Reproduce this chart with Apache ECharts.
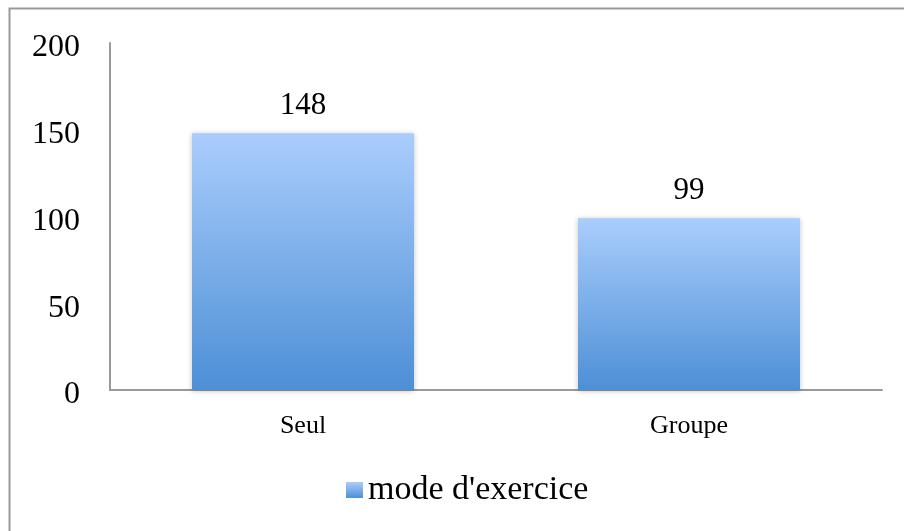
<!DOCTYPE html>
<html>
<head>
<meta charset="utf-8">
<script src="https://cdn.jsdelivr.net/npm/echarts@6/dist/echarts.min.js"></script>
<style>
  html, body { margin: 0; padding: 0; background: #fff; }
  #chart { width: 904px; height: 531px; }
</style>
</head>
<body>
<div id="chart"></div>
<script>
// données
var categories = ['Seul', 'Groupe'];
var values = [148, 99];
var seriesName = "mode d'exercice";
var yTicks = [0, 50, 100, 150, 200];

var serif = '"Liberation Serif", "DejaVu Serif", serif';
var myChart = echarts.init(document.getElementById('chart'));

var barColor = new echarts.graphic.LinearGradient(0, 0, 0, 1, [
  { offset: 0, color: '#aacdfc' },
  { offset: 1, color: '#4d8fd6' }
]);

var option = {
  animation: false,
  backgroundColor: '#fff',
  graphic: [{
    type: 'rect',
    shape: { x: 9.5, y: 8.5, width: 1000, height: 1000 },
    style: { fill: 'none', stroke: '#999', lineWidth: 2 },
    silent: true
  }],
  grid: { left: 110, right: 22, top: 43, bottom: 141 },
  legend: {
    data: [seriesName],
    bottom: 19,
    left: 341,
    itemWidth: 17,
    itemHeight: 16,
    itemGap: 8,
    icon: 'rect',
    textStyle: { fontFamily: serif, fontSize: 34, color: '#000' }
  },
  xAxis: {
    type: 'category',
    data: categories,
    axisLine: { lineStyle: { color: '#999', width: 2 } },
    axisTick: { show: false },
    axisLabel: { fontFamily: serif, fontSize: 26, color: '#000', margin: 23 }
  },
  yAxis: {
    type: 'value',
    min: yTicks[0],
    max: yTicks[yTicks.length - 1],
    interval: 50,
    axisLine: { show: true, lineStyle: { color: '#999', width: 2 } },
    axisTick: { show: false },
    splitLine: { show: false },
    axisLabel: {
      fontFamily: serif, fontSize: 32, color: '#000', margin: 30,
      verticalAlign: 'top', lineHeight: 10
    }
  },
  series: [{
    name: seriesName,
    type: 'bar',
    data: values,
    barWidth: 222,
    itemStyle: {
      color: barColor,
      shadowColor: 'rgba(0,0,0,0.25)',
      shadowBlur: 5,
      shadowOffsetY: 1
    },
    label: {
      show: true,
      position: 'top',
      distance: 12,
      fontFamily: serif,
      fontSize: 31,
      color: '#000'
    }
  }]
};

myChart.setOption(option);
</script>
</body>
</html>
